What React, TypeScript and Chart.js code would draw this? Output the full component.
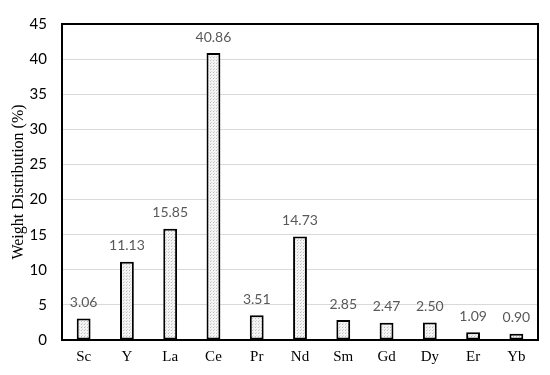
import React, { useEffect, useRef } from "react";
import { Chart, registerables } from "chart.js";

Chart.register(...registerables);

const categories = ["Sc", "Y", "La", "Ce", "Pr", "Nd", "Sm", "Gd", "Dy", "Er", "Yb"];
const weights = [3.06, 11.13, 15.85, 40.86, 3.51, 14.73, 2.85, 2.47, 2.5, 1.09, 0.9];
const valueLabels = ["3.06", "11.13", "15.85", "40.86", "3.51", "14.73", "2.85", "2.47", "2.50", "1.09", "0.90"];
const yMax = 45;
const yStep = 5;

function makePattern(): CanvasPattern | string {
  const c = document.createElement("canvas");
  c.width = 3;
  c.height = 3;
  const ctx = c.getContext("2d");
  if (!ctx) return "#e6e6e6";
  ctx.fillStyle = "#f4f4f4";
  ctx.fillRect(0, 0, 3, 3);
  ctx.fillStyle = "#bdbdbd";
  ctx.fillRect(0, 0, 1, 1);
  ctx.fillStyle = "#d6d6d6";
  ctx.fillRect(1, 2, 1, 1);
  const p = ctx.createPattern(c, "repeat");
  return p || "#e6e6e6";
}

const framePlugin = {
  id: "frame",
  afterDatasetsDraw(chart: any) {
    const { ctx, chartArea } = chart;
    ctx.save();
    ctx.strokeStyle = "#000";
    ctx.lineWidth = 2;
    ctx.strokeRect(chartArea.left, chartArea.top, chartArea.right - chartArea.left, chartArea.bottom - chartArea.top);
    ctx.restore();
  },
};

const labelPlugin = {
  id: "valueLabels",
  afterDatasetsDraw(chart: any) {
    const { ctx } = chart;
    const meta = chart.getDatasetMeta(0);
    ctx.save();
    ctx.fillStyle = "#595959";
    ctx.font = "14px Lato, 'Open Sans', sans-serif";
    ctx.textAlign = "center";
    ctx.textBaseline = "middle";
    meta.data.forEach((el: any, i: number) => {
      ctx.fillText(valueLabels[i], el.x, el.y - 16);
    });
    ctx.restore();
  },
};

export default function App() {
  const ref = useRef<HTMLCanvasElement | null>(null);
  useEffect(() => {
    if (!ref.current) return;
    const chart = new Chart(ref.current, {
      type: "bar",
      data: {
        labels: categories,
        datasets: [
          {
            data: weights,
            backgroundColor: makePattern() as any,
            borderColor: "#000",
            borderWidth: 2,
            borderSkipped: false,
            barPercentage: 0.32,
            categoryPercentage: 1,
          },
        ],
      },
      options: {
        animation: false,
        responsive: false,
        maintainAspectRatio: false,
        layout: { padding: { left: 0, top: 15, right: 12, bottom: 0 } },
        plugins: { legend: { display: false }, tooltip: { enabled: false } },
        scales: {
          x: {
            grid: { display: false, drawTicks: false },
            border: { display: false },
            ticks: {
              color: "#000",
              padding: 8,
              font: { family: "'Liberation Serif', 'Times New Roman', serif", size: 15 },
            },
            afterFit: (s: any) => {
              s.height = 35;
            },
          },
          y: {
            min: 0,
            max: yMax,
            grid: { color: "#d9d9d9", lineWidth: 1, drawTicks: false },
            border: { display: false },
            ticks: {
              stepSize: yStep,
              color: "#000",
              padding: 15,
              font: { family: "Lato, 'Open Sans', sans-serif", size: 15 },
            },
            title: {
              display: true,
              text: "Weight Distribution (%)",
              color: "#000",
              padding: { top: 9, bottom: 0 },
              font: { family: "'Liberation Serif', 'Times New Roman', serif", size: 16 },
            },
            afterFit: (s: any) => {
              s.width = 62;
            },
          },
        },
      },
      plugins: [framePlugin, labelPlugin],
    });
    return () => chart.destroy();
  }, []);
  return (
    <div style={{ position: "fixed", left: 0, top: 0, width: 550, height: 375, background: "#fff" }}>
      <canvas ref={ref} width={550} height={375} style={{ width: 550, height: 375 }} />
    </div>
  );
}
